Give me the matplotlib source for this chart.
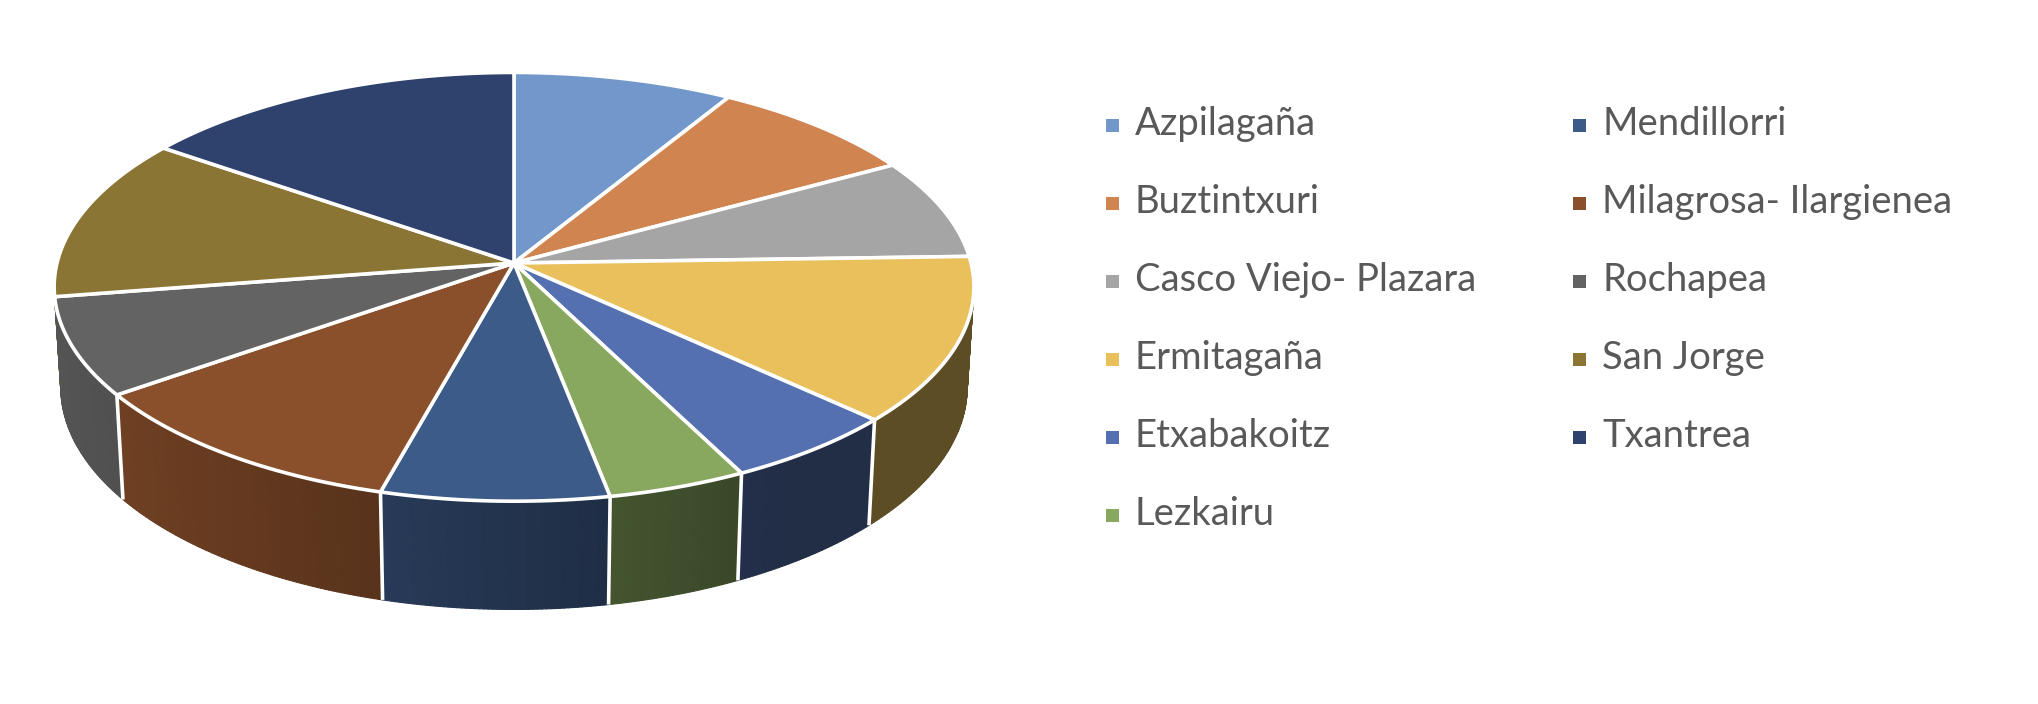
import numpy as np
import matplotlib.pyplot as plt
from matplotlib.patches import Polygon, Rectangle
from matplotlib.collections import PolyCollection
from matplotlib.colors import to_rgb

# Datos (porcentaje aproximado por barrio)
barrios = ['Azpilagaña', 'Buztintxuri', 'Casco Viejo- Plazara', 'Ermitagaña',
           'Etxabakoitz', 'Lezkairu', 'Mendillorri', 'Milagrosa- Ilargienea',
           'Rochapea', 'San Jorge', 'Txantrea']
valores = [8.6, 8.3, 7.6, 12.5, 5.6, 4.4, 7.2, 10.9, 7.4, 12.3, 15.2]
colores = ['#7297CB', '#D08550', '#A5A5A5', '#E9C05B', '#5470B0', '#87A85E',
           '#3D5B89', '#8A4F2B', '#636363', '#8B7535', '#2F416D']

# Geometria de la tarta 3D (en pixeles de la figura)
CX, CY = 514, 263
ESCALA = 457
ELEV = np.radians(27.6)
DIST = 9 * np.cos(ELEV)
GROSOR = 0.25


def proyectar(t, h):
    """Proyecta un punto del borde (angulo t desde arriba, horario) a altura h."""
    x = np.sin(t)
    z = -np.cos(t)
    s, c = np.sin(ELEV), np.cos(ELEV)
    prof = DIST - z * c - h * s
    arriba = -z * s + h * c
    return CX + ESCALA * x * DIST / prof, CY - ESCALA * arriba * DIST / prof


def sombra(u):
    return np.clip(0.86 - 0.3 * (u + 1), 0.40, 0.9)


fig = plt.figure(figsize=(20.38, 7.04), dpi=100)
ax = fig.add_axes([0, 0, 1, 1])
ax.set_xlim(0, 2038)
ax.set_ylim(704, 0)
ax.axis('off')

fr = np.concatenate([[0], np.cumsum(valores)]) / sum(valores)
bordes = 2 * np.pi * fr

# paredes laterales
quads, caras, claves = [], [], []
for i, col in enumerate(colores):
    t0, t1 = bordes[i], bordes[i + 1]
    n = max(int(np.degrees(t1 - t0) / 0.5), 2)
    ts = np.linspace(t0, t1, n + 1)
    base = np.array(to_rgb(col))
    for a, b in zip(ts[:-1], ts[1:]):
        xa, ya = proyectar(a, 0)
        xb, yb = proyectar(b, 0)
        xa2, ya2 = proyectar(a, -GROSOR)
        xb2, yb2 = proyectar(b, -GROSOR)
        quads.append([(xa, ya), (xb, yb), (xb2, yb2), (xa2, ya2)])
        m = 0.5 * (a + b)
        caras.append(base * sombra(np.sin(m)))
        claves.append(-np.cos(m))
orden = np.argsort(claves)
quads = [quads[k] for k in orden]
caras = [caras[k] for k in orden]
ax.add_collection(PolyCollection(quads, facecolors=caras, edgecolors=caras,
                                 linewidths=0.8, zorder=1))

# lineas blancas entre porciones en la pared
for t in bordes[:-1]:
    if -np.cos(t) > 0.2:
        x1, y1 = proyectar(t, 0)
        x2, y2 = proyectar(t, -GROSOR)
        ax.plot([x1, x2], [y1, y2], color='white', lw=2.6, zorder=2,
                solid_capstyle='butt')

# cara superior
for i, col in enumerate(colores):
    ts = np.linspace(bordes[i], bordes[i + 1], 200)
    xs, ys = proyectar(ts, 0)
    pts = [(CX, CY)] + list(zip(xs, ys))
    ax.add_patch(Polygon(pts, closed=True, facecolor=col, edgecolor='white',
                         lw=2.6, joinstyle='round', zorder=3))

# leyenda en dos columnas
for i, (nombre, col) in enumerate(zip(barrios, colores)):
    c, r = divmod(i, 6)
    y = 125 + 78 * r
    xm = 1112.5 + 467.5 * c
    ax.add_patch(Rectangle((xm - 6.5, y - 6.5), 13, 13, facecolor=col,
                           edgecolor='none', zorder=3))
    ax.text(xm + 22.5, y + 10, nombre, fontsize=27.5, family='Lato',
            color='#595959', va='baseline', ha='left')

fig.savefig('out.png', dpi=100)
